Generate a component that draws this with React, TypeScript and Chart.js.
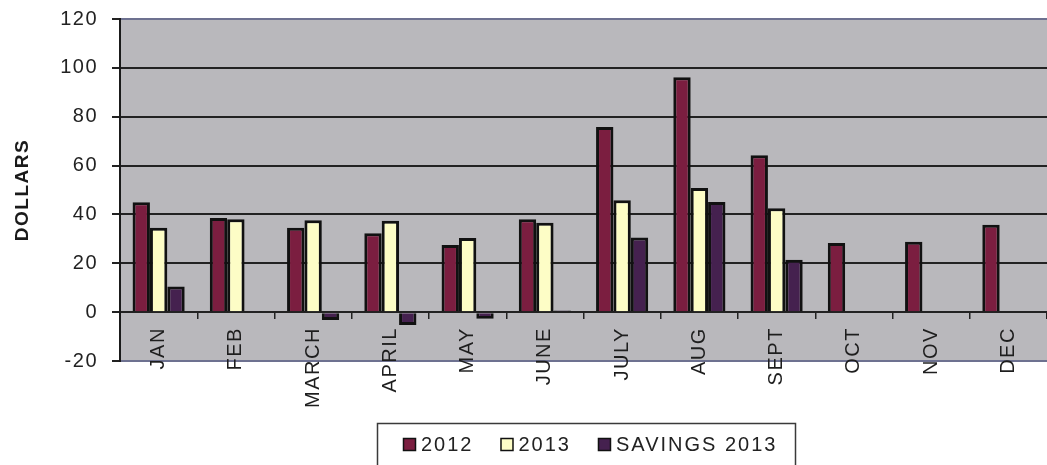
import React, { useEffect, useRef } from "react";
import { Chart, registerables } from "chart.js";

Chart.register(...registerables);

const categories = ["JAN", "FEB", "MARCH", "APRIL", "MAY", "JUNE", "JULY", "AUG", "SEPT", "OCT", "NOV", "DEC"];
const values2012 = [45, 38.5, 34.5, 32.3, 27.5, 38, 75.8, 96.2, 64.2, 28.3, 28.8, 35.8];
const values2013 = [34.5, 38, 37.6, 37.4, 30.3, 36.6, 45.8, 50.8, 42.5, null, null, null];
const savings2013 = [10.5, 0.5, -3.2, -5.3, -2.7, 0.7, 30.6, 45.1, 21.4, null, null, null];
const seriesLabels = ["2012", "2013", "SAVINGS 2013"];
const seriesColors = ["#7b1e40", "#fdfdc6", "#45214f"];
const yMin = -20;
const yMax = 120;
const yStep = 20;
const yTitle = "DOLLARS";

const FONT = "'Liberation Sans', Arial, sans-serif";

const bgPlugin = {
  id: "bgPlugin",
  beforeLayout(chart: any) {
    chart.ctx.letterSpacing = "1.5px";
  },
  beforeDraw(chart: any) {
    const { ctx, chartArea: a } = chart;
    ctx.save();
    ctx.fillStyle = "#b9b8bc";
    ctx.fillRect(a.left, a.top, a.right - a.left, a.bottom - a.top);
    ctx.restore();
    ctx.letterSpacing = "1.5px";
  },
  afterDraw(chart: any) {
    const { ctx } = chart;
    ctx.save();
    ctx.letterSpacing = "2px";
    ctx.font = `20px ${FONT}`;
    ctx.strokeStyle = "#3a3a3a";
    ctx.lineWidth = 1.5;
    ctx.strokeRect(377.5, 423.5, 418, 60);
    let x = 403;
    const cy = 444;
    chart.data.datasets.forEach((ds: any) => {
      ctx.fillStyle = ds.backgroundColor;
      ctx.fillRect(x, cy - 6, 13, 13);
      ctx.strokeStyle = "#111";
      ctx.lineWidth = 1.5;
      ctx.strokeRect(x + 0.5, cy - 5.5, 12, 12);
      ctx.fillStyle = "#222";
      ctx.textBaseline = "middle";
      ctx.textAlign = "left";
      ctx.fillText(ds.label, x + 18, cy + 1);
      x += 18 + ctx.measureText(ds.label).width + 27;
    });
    ctx.restore();
  },
};

export default function App() {
  const canvasRef = useRef<HTMLCanvasElement | null>(null);

  useEffect(() => {
    if (!canvasRef.current) return;
    const datasets = [values2012, values2013, savings2013].map((d, i) => ({
      label: seriesLabels[i],
      data: d,
      backgroundColor: seriesColors[i],
      borderColor: "#111111",
      borderWidth: 3,
      categoryPercentage: 0.675,
      barPercentage: 1,
    }));
    const chart = new Chart(canvasRef.current, {
      type: "bar",
      data: { labels: categories, datasets },
      options: {
        responsive: true,
        maintainAspectRatio: false,
        animation: false,
        layout: { padding: { top: 19, bottom: 104, left: 0, right: 0 } },
        plugins: { legend: { display: false }, tooltip: { enabled: false } },
        scales: {
          x: {
            position: { y: 0 } as any,
            offset: true,
            grid: {
              offset: true,
              drawOnChartArea: false,
              drawTicks: true,
              tickLength: 6,
              color: "#222",
              lineWidth: 1.5,
            },
            border: { display: true, color: "#222", width: 2 },
            ticks: {
              minRotation: 90,
              maxRotation: 90,
              autoSkip: false,
              padding: 9,
              color: "#1e1e1e",
              font: { family: FONT, size: 20 },
            },
          },
          y: {
            min: yMin,
            max: yMax,
            ticks: {
              stepSize: yStep,
              padding: 14,
              color: "#222",
              font: { family: FONT, size: 20 },
            },
            grid: {
              color: (c: any) => (c.tick && (c.tick.value === yMax || c.tick.value === yMin) ? "#6d7190" : "#222"),
              tickColor: "#222",
              lineWidth: 2,
              tickLength: 8,
            },
            border: { display: true, color: "#1a1a1a", width: 2 },
            title: {
              display: true,
              text: yTitle,
              color: "#1a1a1a",
              font: { family: FONT, size: 19, weight: "bold" },
              padding: { top: 11, bottom: 0 },
            },
            afterFit: (s: any) => {
              s.width = 120;
              s.paddingTop = 0;
              s.paddingBottom = 0;
            },
          },
        },
      },
      plugins: [bgPlugin],
    });
    return () => chart.destroy();
  }, []);

  return (
    <div style={{ position: "absolute", left: 0, top: 0, width: 1047, height: 465, background: "#fff" }}>
      <canvas ref={canvasRef} />
    </div>
  );
}
